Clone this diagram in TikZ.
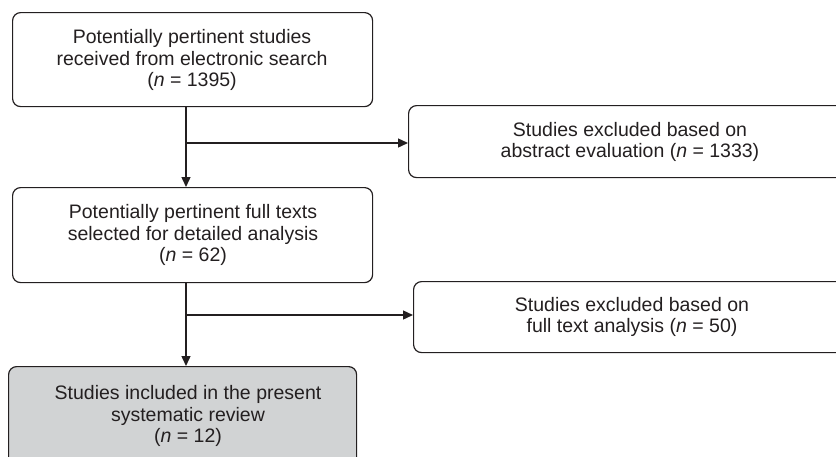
\documentclass[tikz,border=0pt]{standalone}
\usepackage{fontspec}
\setmainfont{Liberation Sans}
\usetikzlibrary{arrows.meta}
\definecolor{ink}{HTML}{231F20}
\definecolor{shade}{HTML}{D1D3D4}
\begin{document}
\begin{tikzpicture}[x=1pt,y=-1pt,
  box/.style={draw=ink, line width=1.2pt, rounded corners=8pt, inner sep=0pt, anchor=north west},
  txt/.style={align=center, text=ink, font=\fontsize{19.5}{21.8}\selectfont, inner sep=0pt},
  conn/.style={draw=ink, line width=1.4pt},
  arr/.style={conn, -{Triangle[length=10pt,width=9pt]}}]
\useasboundingbox (0,0) rectangle (836,456);
\clip (0,0) rectangle (836,456);
\node[box, minimum width=360pt, minimum height=94pt] (n1) at (12,12) {};
\node[box, minimum width=360pt, minimum height=95pt] (n2) at (12,187) {};
\node[box, minimum width=440pt, minimum height=72pt] (n3) at (408,105) {};
\node[box, fill=shade, minimum width=348pt, minimum height=100pt] (n4) at (8,366) {};
\node[box, minimum width=438pt, minimum height=71pt] (n5) at (413,281) {};
\node[txt] (t1) at (192,60) {Potentially pertinent studies\\received from electronic search\\(\textit{n} = 1395)};
\node[txt] (t2) at (193,235) {Potentially pertinent full texts\\selected for detailed analysis\\(\textit{n} = 62)};
\node[txt] (t3) at (630,142) {Studies excluded based on\\abstract evaluation (\textit{n} = 1333)};
\node[txt] (t5) at (632,317) {Studies excluded based on\\full text analysis (\textit{n} = 50)};
\node[txt] (t4) at (188,416) {Studies included in the present\\systematic review\\(\textit{n} = 12)};
\coordinate (j1) at (186,143);
\coordinate (j2) at (186,315);
\draw[arr] (n1.south -| j1) -- (j1 |- n2.north);
\draw[arr] (j1) -- (j1 -| n3.west);
\draw[arr] (n2.south -| j2) -- (j2 |- n4.north);
\draw[arr] (j2) -- (j2 -| n5.west);
\end{tikzpicture}
\end{document}
